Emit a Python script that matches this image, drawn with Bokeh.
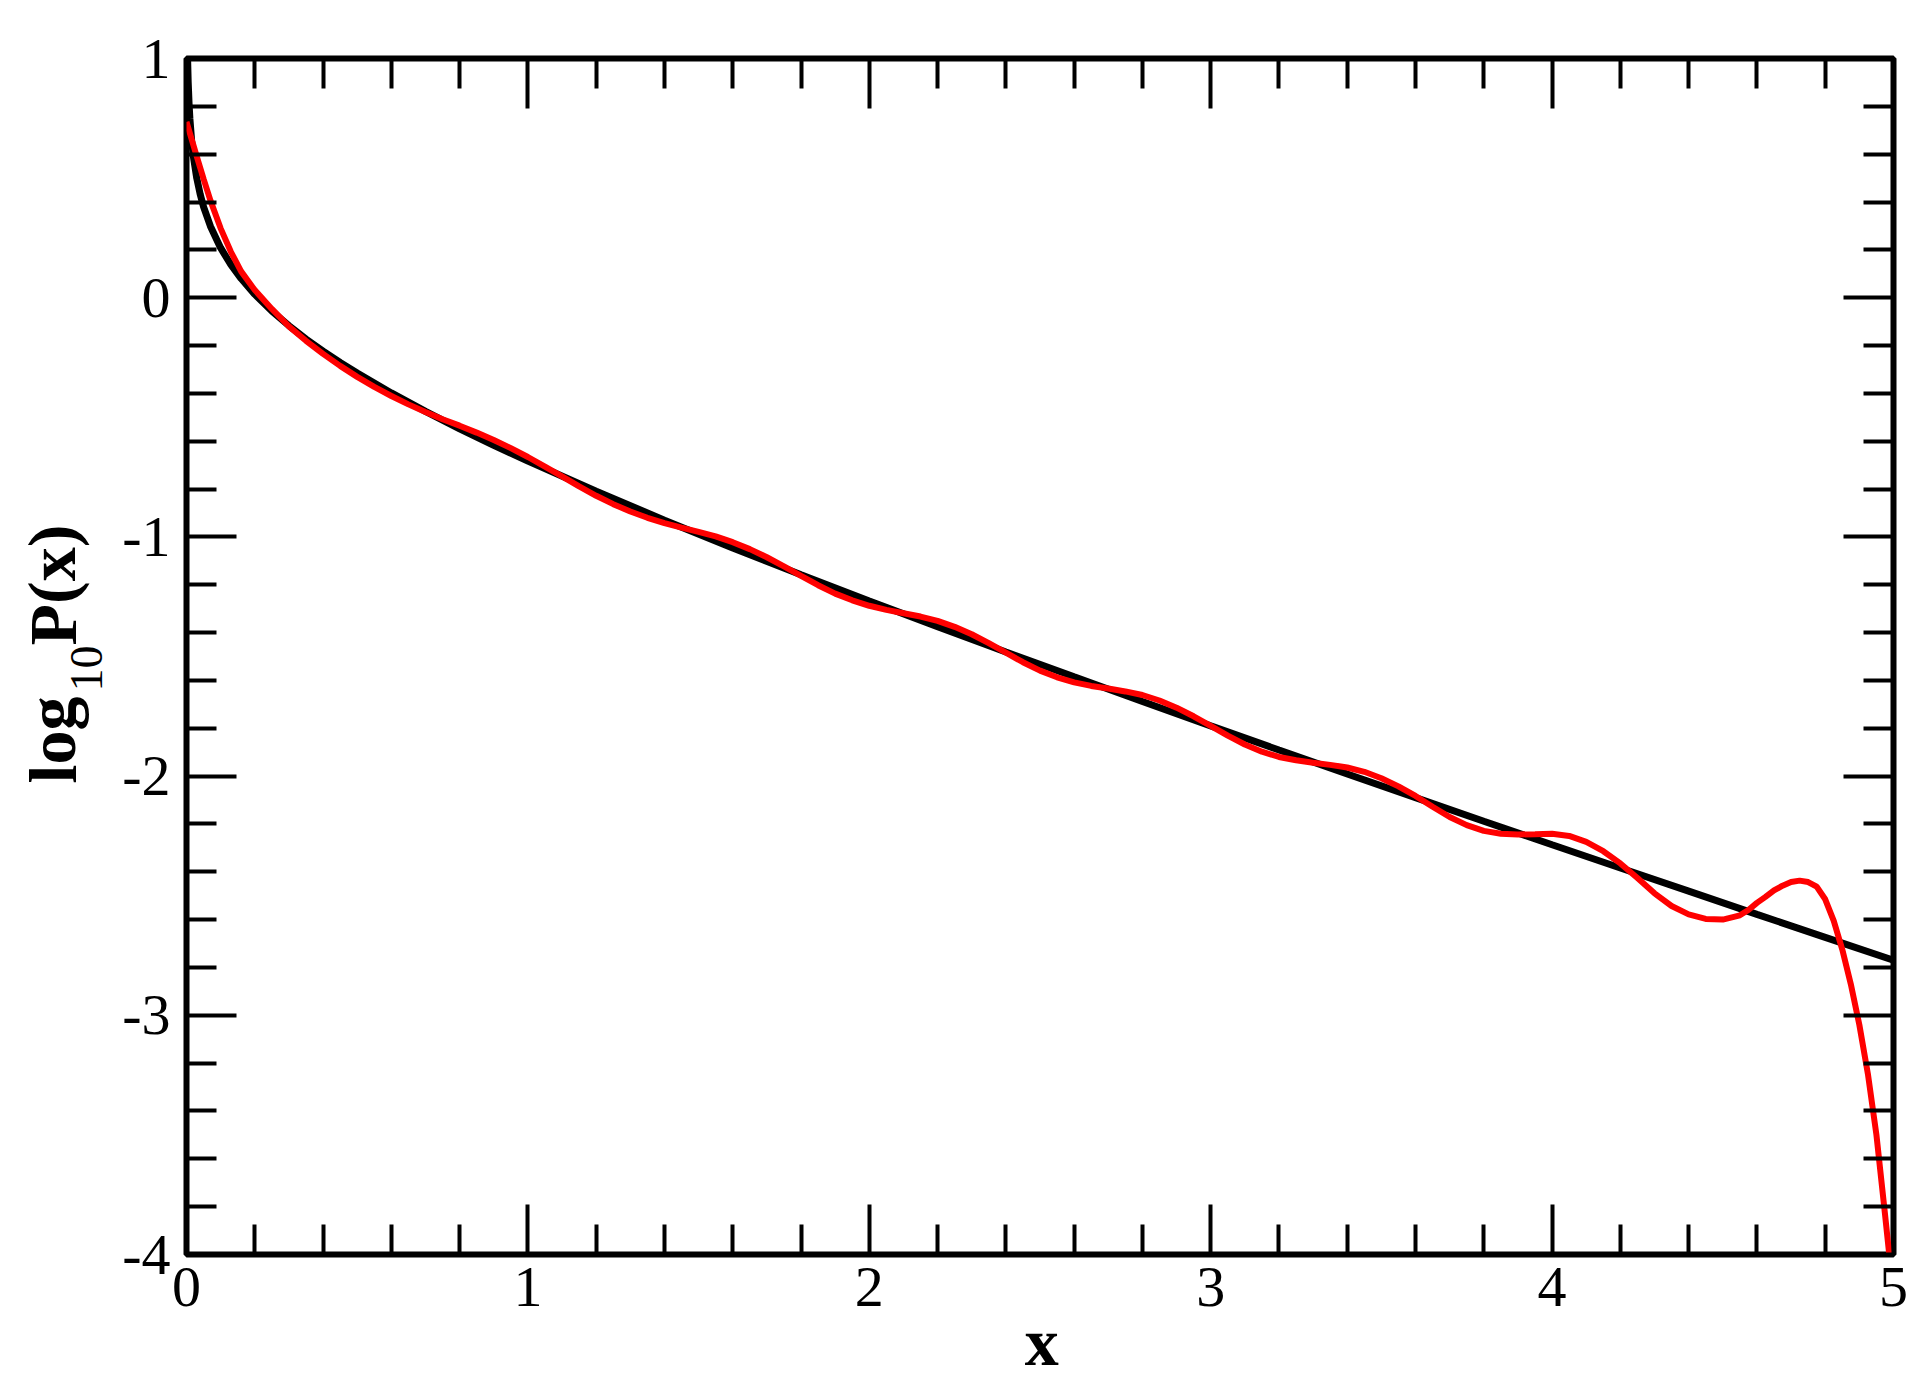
from bokeh.plotting import figure
from bokeh.models import FixedTicker, LinearAxis, Label, Range1d
from bokeh.layouts import row, column
from bokeh.embed import file_html
from bokeh.resources import INLINE

# ---- data ----
x_black = [0.003, 0.005, 0.0075, 0.01, 0.015, 0.02, 0.03, 0.04, 0.05, 0.07, 0.1, 0.13,
           0.16, 0.2, 0.25, 0.3, 0.35, 0.4, 0.45, 0.5, 0.6, 0.7, 0.8, 0.9, 1.0, 1.2,
           1.4, 1.6, 1.8, 2.0, 2.2, 2.4, 2.6, 2.8, 3.0, 3.2, 3.4, 3.6, 3.8, 4.0, 4.2,
           4.4, 4.6, 4.8, 5.0]
y_black = [1.012, 0.900, 0.811, 0.747, 0.657, 0.592, 0.500, 0.433, 0.380, 0.299, 0.208, 0.138,
           0.080, 0.014, -0.056, -0.117, -0.173, -0.223, -0.271, -0.315, -0.398, -0.475, -0.548,
           -0.617, -0.683, -0.809, -0.930, -1.046, -1.158, -1.268, -1.375, -1.481, -1.585,
           -1.688, -1.790, -1.891, -1.991, -2.090, -2.189, -2.287, -2.384, -2.481, -2.578,
           -2.674, -2.770]

x_red = [0.0, 0.01, 0.02, 0.03, 0.05, 0.07, 0.1, 0.13, 0.16, 0.2, 0.25, 0.3, 0.35, 0.4, 0.45,
         0.5, 0.55, 0.6, 0.65, 0.7, 0.75, 0.8, 0.85, 0.9, 0.95, 1.0, 1.05, 1.1, 1.15, 1.2,
         1.25, 1.3, 1.35, 1.4, 1.45, 1.5, 1.55, 1.6, 1.65, 1.7, 1.75, 1.8, 1.85, 1.9, 1.95,
         2.0, 2.05, 2.1, 2.15, 2.2, 2.25, 2.3, 2.35, 2.4, 2.45, 2.5, 2.55, 2.6, 2.65, 2.7,
         2.75, 2.8, 2.85, 2.9, 2.95, 3.0, 3.05, 3.1, 3.15, 3.2, 3.25, 3.3, 3.35, 3.4, 3.45,
         3.5, 3.55, 3.6, 3.65, 3.7, 3.75, 3.8, 3.85, 3.9, 3.95, 4.0, 4.05, 4.1, 4.15, 4.2,
         4.25, 4.3, 4.35, 4.4, 4.45, 4.5, 4.55, 4.575, 4.6, 4.625, 4.65, 4.675, 4.7, 4.725,
         4.75, 4.775, 4.8, 4.825, 4.85, 4.875, 4.9, 4.925, 4.95, 4.975, 5.0]
y_red = [0.735, 0.687, 0.639, 0.591, 0.497, 0.407, 0.290, 0.192, 0.110, 0.032, -0.047, -0.120,
         -0.180, -0.235, -0.285, -0.331, -0.373, -0.411, -0.446, -0.478, -0.508, -0.535, -0.564,
         -0.595, -0.629, -0.666, -0.706, -0.747, -0.789, -0.828, -0.863, -0.894, -0.920, -0.942,
         -0.961, -0.979, -0.998, -1.022, -1.051, -1.085, -1.123, -1.163, -1.202, -1.237, -1.265,
         -1.288, -1.305, -1.319, -1.333, -1.351, -1.376, -1.407, -1.444, -1.484, -1.524, -1.559,
         -1.587, -1.608, -1.623, -1.634, -1.646, -1.661, -1.684, -1.714, -1.750, -1.790, -1.831,
         -1.868, -1.898, -1.920, -1.934, -1.944, -1.953, -1.964, -1.982, -2.009, -2.043, -2.083,
         -2.128, -2.171, -2.205, -2.229, -2.241, -2.244, -2.243, -2.241, -2.250, -2.275, -2.314,
         -2.365, -2.426, -2.490, -2.543, -2.578, -2.597, -2.600, -2.582, -2.560, -2.530, -2.505,
         -2.478, -2.458, -2.443, -2.437, -2.443, -2.462, -2.515, -2.605, -2.725, -2.870, -3.040,
         -3.245, -3.500, -3.830, -4.170]

x_ticks = [0, 1, 2, 3, 4, 5]
x_tick_labels = ["0", "1", "2", "3", "4", "5"]
x_minor = [i / 5 for i in range(1, 25) if i % 5 != 0]
y_ticks = [-4, -3, -2, -1, 0, 1]
y_tick_labels = ["-4", "-3", "-2", "-1", "0", "1"]
y_minor = [-4 + i / 5 for i in range(1, 25) if i % 5 != 0]

x_title = "x"
y_title_parts = ["log", "10", "P(x)"]

FONT = "Liberation Serif"
YLAB_W = 115
MAIN_W = 1919 - YLAB_W
MAIN_H = 1332
TOTAL_H = 1377

# ---------------- main plot ----------------
p = figure(width=MAIN_W, height=MAIN_H, x_range=Range1d(0, 5), y_range=Range1d(-4, 1),
           output_backend="svg", toolbar_location=None, title=None,
           min_border_left=186 - YLAB_W, min_border_right=26, min_border_top=58,
           min_border_bottom=78)
p.grid.visible = False
p.background_fill_color = "white"
p.border_fill_color = "white"
p.outline_line_color = "black"
p.outline_line_width = 6

bottom_ax = p.below[0]
left_ax = p.left[0]
right_ax = LinearAxis()
top_ax = LinearAxis()
p.add_layout(right_ax, "right")
p.add_layout(top_ax, "above")


def style(ax, ticks, minor, labels):
    ax.ticker = FixedTicker(ticks=ticks, minor_ticks=minor)
    ax.axis_line_color = None
    ax.major_tick_in = 50
    ax.major_tick_out = 0
    ax.minor_tick_in = 30
    ax.minor_tick_out = 0
    ax.major_tick_line_width = 4
    ax.minor_tick_line_width = 4
    ax.major_tick_line_color = "black"
    ax.minor_tick_line_color = "black"
    if labels is None:
        ax.major_label_overrides = {float(t): "" for t in ticks}
        ax.major_label_text_font_size = "0px"
        ax.major_label_standoff = 0
    else:
        ax.major_label_overrides = {float(t): s for t, s in zip(ticks, labels)}
        ax.major_label_text_font = FONT
        ax.major_label_text_font_size = "58px"
        ax.major_label_text_color = "black"


style(bottom_ax, x_ticks, x_minor, x_tick_labels)
style(left_ax, y_ticks, y_minor, y_tick_labels)
style(right_ax, y_ticks, y_minor, None)
style(top_ax, x_ticks, x_minor, None)
bottom_ax.major_label_standoff = 13
left_ax.major_label_standoff = 16

p.line(x_black, y_black, line_color="black", line_width=7)
p.line(x_red, y_red, line_color="#ff0000", line_width=6)


def strip(w, h):
    f = figure(width=w, height=h, x_range=Range1d(0, w), y_range=Range1d(h, 0),
               x_axis_type=None, y_axis_type=None, output_backend="svg",
               toolbar_location=None, title=None, min_border=0, min_border_left=0,
               min_border_right=0, min_border_top=0, min_border_bottom=0)
    f.grid.visible = False
    f.outline_line_color = None
    f.background_fill_color = "white"
    f.border_fill_color = "white"
    return f


# ---------------- y-axis title strip (page pixel coordinates) ----------------
ylab = strip(YLAB_W, TOTAL_H)
ylab.add_layout(Label(x=52, y=783, text=y_title_parts[0], angle=1.5708, text_font=FONT,
                      text_font_size="68px", text_font_style="bold", text_color="black",
                      text_align="left", text_baseline="alphabetic"))
ylab.add_layout(Label(x=86, y=691, text=y_title_parts[1], angle=1.5708, text_font=FONT,
                      text_font_size="46px", text_color="black", text_align="left",
                      text_baseline="alphabetic"))
ylab.add_layout(Label(x=52, y=645, text=y_title_parts[2], angle=1.5708, text_font=FONT,
                      text_font_size="68px", text_font_style="bold", text_color="black",
                      text_align="left", text_baseline="alphabetic"))

# ---------------- x-axis title strip ----------------
XLAB_H = TOTAL_H - MAIN_H
xlab = strip(MAIN_W, XLAB_H)
xlab.add_layout(Label(x=1001 - YLAB_W, y=1341 - MAIN_H, text=x_title, text_font=FONT,
                      text_font_size="68px", text_font_style="bold", text_color="black",
                      text_align="left", text_baseline="alphabetic"))

layout = row(ylab, column(p, xlab, spacing=0), spacing=0)
open("out.html", "w").write(file_html(layout, INLINE))
